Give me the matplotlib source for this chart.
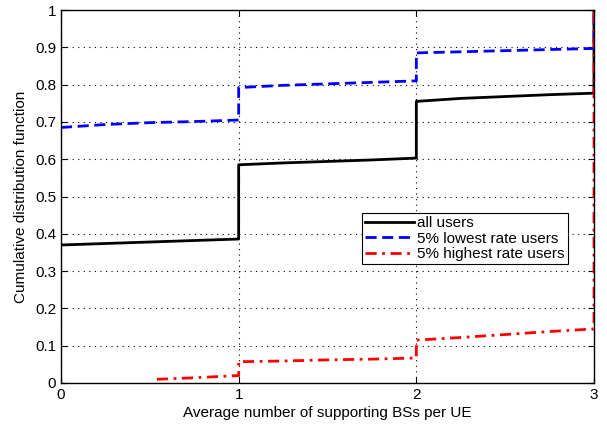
import numpy as np
import matplotlib.pyplot as plt

plt.rcParams['font.family'] = ['Liberation Sans', 'DejaVu Sans']

# values
all_x = [0, 0.25, 0.5, 0.75, 1.0, 1.0, 1.25, 1.5, 1.75, 2.0, 2.0, 2.25, 2.5, 2.75, 3.0, 3.0]
all_y = [0.370, 0.374, 0.378, 0.382, 0.386, 0.585, 0.590, 0.594, 0.598, 0.603, 0.755, 0.763, 0.768, 0.773, 0.777, 1.0]

low_x = [0, 0.25, 0.5, 0.75, 1.0, 1.0, 1.25, 1.5, 1.75, 2.0, 2.0, 2.25, 2.5, 2.75, 3.0, 3.0]
low_y = [0.685, 0.693, 0.698, 0.701, 0.705, 0.792, 0.798, 0.802, 0.806, 0.810, 0.885, 0.888, 0.891, 0.894, 0.897, 1.0]

high_x = [0.54, 0.75, 1.0, 1.0, 1.25, 1.5, 1.75, 2.0, 2.0, 2.25, 2.5, 2.75, 3.0, 3.0]
high_y = [0.010, 0.014, 0.020, 0.057, 0.059, 0.062, 0.064, 0.067, 0.115, 0.122, 0.130, 0.138, 0.145, 1.0]

xticks = [0, 1, 2, 3]
yticks = np.round(np.arange(0, 1.01, 0.1), 1)
ylabels = ['0'] + ['%.1f' % v for v in yticks[1:-1]] + ['1']

fig = plt.figure(figsize=(6.07, 4.26), dpi=100)
ax = fig.add_axes([61 / 607, 1 - 383 / 426, 533 / 607, 373 / 426])

ax.plot(all_x, all_y, color='black', lw=2, label='all users')
ax.plot(low_x, low_y, color='blue', lw=2, ls=(0, (4, 2)), label='5% lowest rate users')
ax.plot(high_x, high_y, color='red', lw=2, ls=(0, (4, 2, 1, 2)), label='5% highest rate users')

ax.set_xlim(0, 3)
ax.set_ylim(0, 1)
ax.set_xticks(xticks)
ax.set_xticklabels([str(v) for v in xticks])
ax.set_yticks(yticks)
ax.set_yticklabels(ylabels)
ax.grid(True, color='black', ls=(0, (1, 4)), lw=0.8)
ax.tick_params(direction='in', length=4, labelsize=11, top=True, right=True)
for s in ax.spines.values():
    s.set_linewidth(1)

ax.set_xlabel('Average number of supporting BSs per UE', fontsize=11, labelpad=3)
ax.set_ylabel('Cumulative distribution function', fontsize=11, labelpad=5)

leg = ax.legend(loc='upper left', bbox_to_anchor=((362 - 61) / 533, (383 - 213) / 373),
                fontsize=11, frameon=True, fancybox=False, framealpha=1,
                edgecolor='black', borderpad=0.2, labelspacing=0.1,
                handlelength=3.2, handletextpad=0.2, borderaxespad=0)
leg.get_frame().set_linewidth(0.8)

fig.savefig('out.png', dpi=100)
